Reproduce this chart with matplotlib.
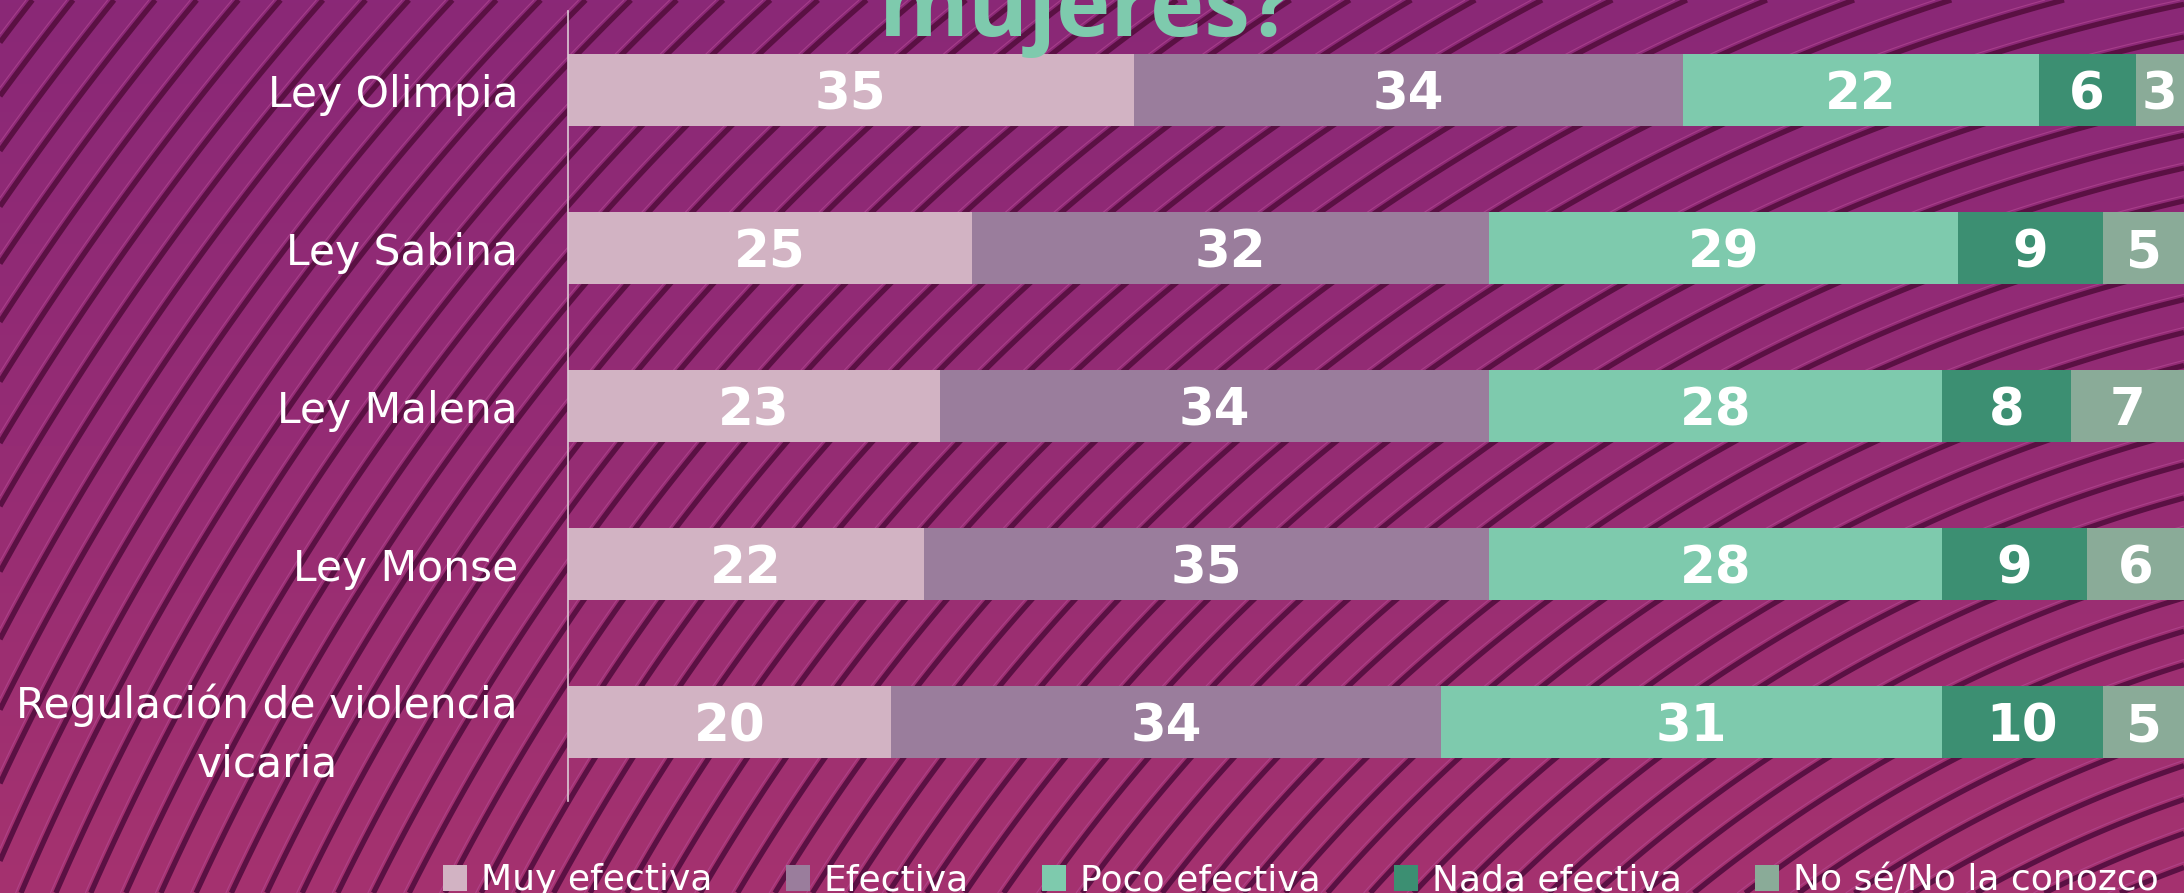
import matplotlib.pyplot as plt
import numpy as np
from matplotlib.patches import Patch
from matplotlib.colors import LinearSegmentedColormap

categories = ["Ley Olimpia", "Ley Sabina", "Ley Malena", "Ley Monse",
              "Regulación de violencia\nvicaria"]
series = ["Muy efectiva", "Efectiva", "Poco efectiva", "Nada efectiva", "No sé/No la conozco"]
muy_efectiva = [35, 25, 23, 22, 20]
efectiva = [34, 32, 34, 35, 34]
poco_efectiva = [22, 29, 28, 28, 31]
nada_efectiva = [6, 9, 8, 9, 10]
no_se = [3, 5, 7, 6, 5]
colors = ['#d2b3c3', '#9a7d9c', '#7ecaad', '#3c8f72', '#8aab98']

W, H = 2184, 893
fig = plt.figure(figsize=(W / 100, H / 100), dpi=100)

# background: gradient + concentric dark arcs (decoration only)
bg = fig.add_axes([0, 0, 1, 1], zorder=-10)
grad = np.linspace(0, 1, 256).reshape(-1, 1)
cmap = LinearSegmentedColormap.from_list('bg', ['#8a2877', '#952c74', '#a5326f'])
bg.imshow(grad, cmap=cmap, aspect='auto', extent=[0, W, H, 0])
gx, gy = np.meshgrid(np.linspace(0, W, 700), np.linspace(0, H, 300))
r = np.hypot(gx - 2600, gy - 2000)
lev = np.arange(r.min() - 40, r.max() + 40, 32)
bg.contour(gx, gy, r, levels=lev, colors='#5a1043', linewidths=3.8)
bg.contour(gx, gy, r, levels=lev + 5, colors='#b84c98', linewidths=0.8, alpha=0.6)
bg.set_xlim(0, W)
bg.set_ylim(H, 0)
bg.axis('off')

ax = fig.add_axes([568 / W, 92 / H, (W - 568) / W, 790 / H])
ax.patch.set_alpha(0)

data = [muy_efectiva, efectiva, poco_efectiva, nada_efectiva, no_se]
y = np.arange(len(categories))
left = np.zeros(len(categories))
for vals, c, name in zip(data, colors, series):
    vals = np.array(vals)
    ax.barh(y, vals, left=left, height=0.45, color=c, label=name)
    for yi, l, v in zip(y, left, vals):
        ax.text(l + v / 2, yi + 0.122, str(v), ha='center', va='baseline',
                color='white', fontsize=37, fontweight='bold', family='DejaVu Sans')
    left += vals

ax.set_xlim(0, 100)
ax.set_ylim(4.5, -0.5)
ax.set_yticks(y)
ax.set_yticklabels(categories, fontsize=30.5, color='white', family='DejaVu Sans',
                   linespacing=1.5)
for lab in ax.get_yticklabels():
    lab.set_multialignment('center')
ax.tick_params(axis='y', length=0, pad=36)
ax.set_xticks([])
for s in ['top', 'right', 'bottom']:
    ax.spines[s].set_visible(False)
ax.spines['left'].set_color('#dccbd6')
ax.spines['left'].set_linewidth(1.2)

fig.text(1087 / W, 1 - 36 / H, "mujeres?", ha='center', va='baseline',
         fontsize=66, fontweight='bold', color='#7ecaad', family='Open Sans')

handles = [Patch(facecolor=c, edgecolor='none') for c in colors]
fig.legend(handles, series, loc='lower left', bbox_to_anchor=(443 / W, -0.005),
           ncol=5, frameon=False, borderpad=0, borderaxespad=0,
           handlelength=0.67, handleheight=0.72, handletextpad=0.39,
           columnspacing=2.02, prop={'family': 'DejaVu Sans', 'size': 26},
           labelcolor='white')

fig.savefig('out.png', dpi=100)
